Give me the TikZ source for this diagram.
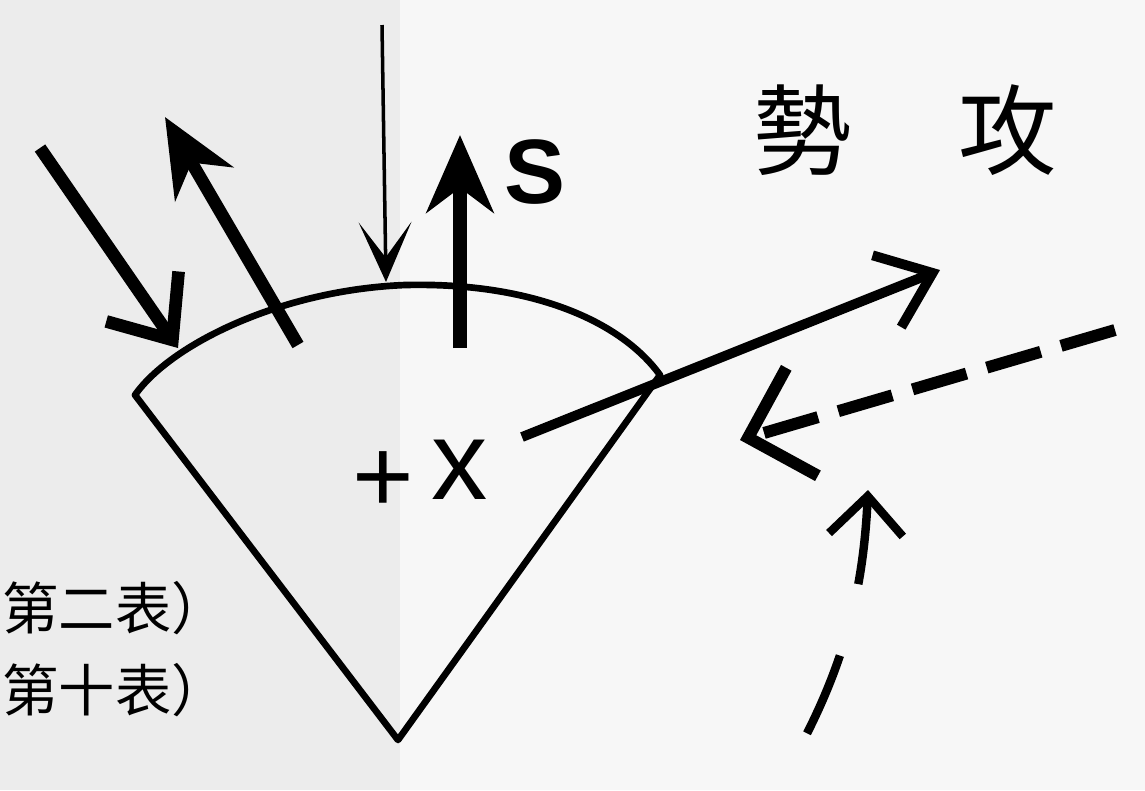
\documentclass[tikz,border=0pt]{standalone}
\usepackage{fontspec}
\newfontfamily\cjk{Noto Sans CJK TC}
\newfontfamily\lab{Liberation Sans}
\usetikzlibrary{arrows.meta}

\begin{document}
\begin{tikzpicture}[
    x=0.01cm, y=-0.01cm,
    edge/.style={line width=1.9pt, line cap=round, line join=round},
    fat/.style={line width=3.6pt, -{Stealth[length=22pt, width=19pt, inset=7pt]}},
    barb/.style={line width=3pt, -{Straight Barb[length=14pt, width=22pt]}},
    fine/.style={line width=1pt, -{Stealth[length=17pt, width=15pt, inset=10pt]}},
    dashline/.style={line width=3.4pt, dash pattern=on 16pt off 6pt},
    every node/.style={inner sep=0pt}
  ]
    % Paper
    \fill[gray!6] (0,0) rectangle (1145,790);
    \fill[gray!15] (0,0) rectangle (400,790);
    \useasboundingbox (0,0) rectangle (1145,790);

    % Sector
    \coordinate (L) at (135,395);
    \coordinate (T) at (405,285);
    \coordinate (R) at (660,375);
    \coordinate (B) at (398,740);
    \draw[edge] (L) .. controls (170,345) and (280,290) .. (T)
      .. controls (530,282) and (620,320) .. (R) -- (B) -- cycle;

    % Arrows on the arc
    \coordinate (a1) at (40,148);
    \coordinate (a2) at (178,348);
    \coordinate (b1) at (298,345);
    \coordinate (b2) at (165,117);
    \coordinate (c1) at (382,25);
    \coordinate (c2) at (386,282);
    \coordinate (s1) at (460,348);
    \coordinate (s2) at (460,135);
    \draw[barb, line width=3.6pt, -{Straight Barb[length=15pt, width=25pt]}] (a1) -- (a2);
    \draw[fat] (b1) -- (b2);
    \draw[fine] (c1) -- (c2);
    \draw[fat, line width=4pt] (s1) -- (s2);
    \node[font=\lab\bfseries\fontsize{26}{26}\selectfont] (slabel) at (535,172) {S};

    % Attack and counter
    \coordinate (m1) at (522,437);
    \coordinate (m2) at (940,270);
    \coordinate (d1) at (1115,330);
    \coordinate (d2) at (740,440);
    \coordinate (u1) at (770,800);
    \coordinate (u2) at (868,490);
    \draw[barb, line width=2.8pt] (m1) -- (m2);
    \draw[dashline, -{Straight Barb[length=16pt, width=32pt]}] (d1) -- (d2);
    \draw[line width=2.4pt, dash pattern=on 24pt off 21pt,
      {Straight Barb[length=11pt, width=21pt]}-] (u2) .. controls (862,620) and (830,700) .. (u1);

    % Labels
    \node[font=\cjk\fontsize{28}{28}\selectfont] (shi) at (803,130) {勢};
    \node[font=\cjk\fontsize{28}{28}\selectfont] (gong) at (1008,130) {攻};
    \node[font=\lab\fontsize{30}{30}\selectfont] (plus) at (383,482) {+};
    \node[font=\lab\fontsize{32}{32}\selectfont] (xlabel) at (460,470) {x};
    \node[font=\cjk\fontsize{16}{16}\selectfont, anchor=west] (tab2) at (2,608) {第二表）};
    \node[font=\cjk\fontsize{16}{16}\selectfont, anchor=west] (tab10) at (2,690) {第十表）};
  \end{tikzpicture}
\end{document}
